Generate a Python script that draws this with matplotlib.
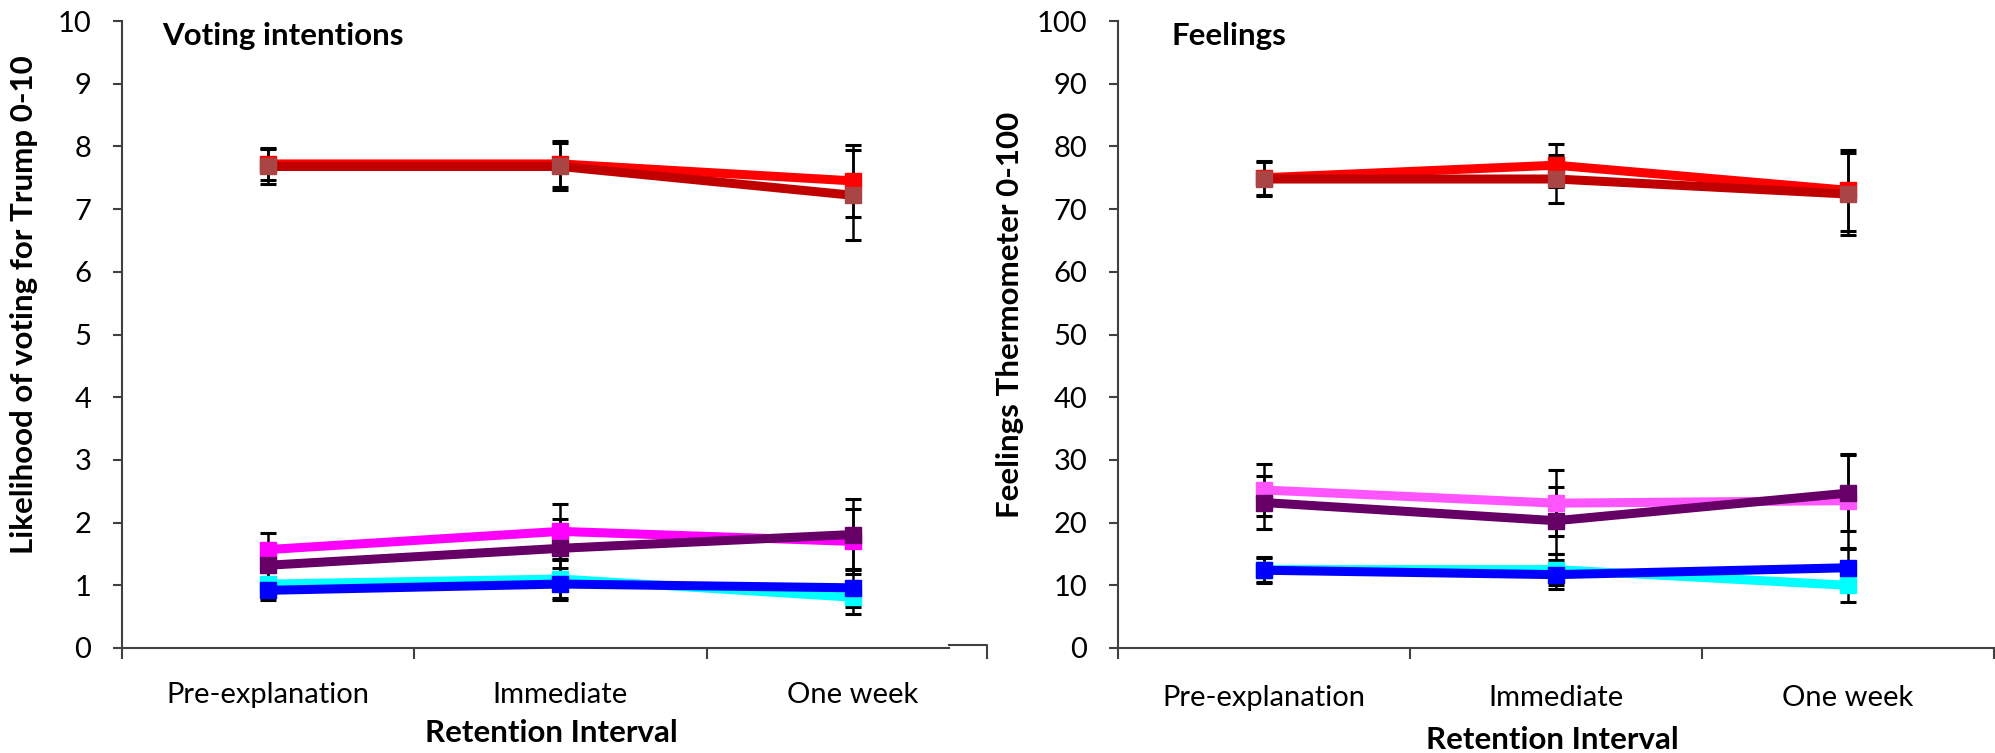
import matplotlib
matplotlib.use('Agg')
import matplotlib.pyplot as plt

plt.rcParams['font.family'] = ['Lato', 'DejaVu Sans']

# ---------------- data ----------------
categories = ['Pre-explanation', 'Immediate', 'One week']

# Left panel: Voting intentions (0-10)
red_L = [7.72, 7.72, 7.45]
red_L_err = [0.26, 0.37, 0.58]
darkred_L = [7.68, 7.68, 7.22]
darkred_L_err = [0.28, 0.38, 0.72]
magenta_L = [1.57, 1.86, 1.70]
magenta_L_err = [0.27, 0.44, 0.52]
purple_L = [1.32, 1.59, 1.81]
purple_L_err = [0.20, 0.46, 0.56]
cyan_L = [1.02, 1.10, 0.81]
cyan_L_err = [0.20, 0.30, 0.26]
blue_L = [0.92, 1.02, 0.96]
blue_L_err = [0.15, 0.25, 0.30]

# Right panel: Feelings thermometer (0-100)
red_R = [75.0, 77.0, 73.0]
red_R_err = [2.7, 3.4, 6.5]
darkred_R = [74.8, 74.8, 72.4]
darkred_R_err = [2.7, 3.9, 6.5]
pink_R = [25.2, 23.1, 23.5]
pink_R_err = [4.1, 5.3, 7.5]
purple_R = [23.2, 20.3, 24.7]
purple_R_err = [4.3, 5.3, 6.1]
cyan_R = [12.5, 12.5, 10.0]
cyan_R_err = [2.0, 2.5, 2.6]
blue_R = [12.4, 11.7, 12.8]
blue_R_err = [2.0, 2.3, 3.0]

left_yticks = list(range(0, 11))
right_yticks = list(range(0, 101, 10))

# ---------------- figure ----------------
W, H = 1995, 753
fig = plt.figure(figsize=(W / 100, H / 100), dpi=100)
axL = fig.add_axes([122 / W, 1 - 648 / H, 877 / W, 627 / H])
axR = fig.add_axes([1118 / W, 1 - 648 / H, 876 / W, 627 / H])

AX_COLOR = '#404040'
FS = 21
FSB = 22.5


def draw(ax, series, ylim, yticks, right_tick=True, cat_pad=24.5):
    x = list(range(len(categories)))
    for vals, err, lc, mc in series:
        ax.errorbar(x, vals, yerr=err, fmt='none', ecolor='black',
                    elinewidth=1.8, capsize=5.5, capthick=2.2, zorder=2)
    for i, (vals, err, lc, mc) in enumerate(series):
        ax.plot(x, vals, color=lc, lw=6.5, marker='s', ms=11.5,
                mfc=mc, mec=mc, zorder=3 + i, solid_joinstyle='miter')
    ax.set_xlim(-0.5, 2.5)
    ax.set_ylim(*ylim)
    ax.set_yticks(yticks)
    ax.set_yticklabels([str(t) for t in yticks], fontsize=FS)
    maj = [-0.5, 0.5, 1.5] + ([2.5] if right_tick else [])
    ax.set_xticks(maj)
    ax.set_xticklabels([''] * len(maj))
    ax.set_xticks(x, minor=True)
    ax.set_xticklabels(categories, minor=True, fontsize=FS)
    ax.tick_params(axis='x', which='minor', length=0, pad=cat_pad)
    ax.tick_params(axis='x', which='major', length=8, width=1.5,
                   color=AX_COLOR, direction='out')
    ax.tick_params(axis='y', length=6.5, width=1.5, color=AX_COLOR,
                   pad=15.5, direction='out')
    for s in ('top', 'right'):
        ax.spines[s].set_visible(False)
    for s in ('left', 'bottom'):
        ax.spines[s].set_color(AX_COLOR)
        ax.spines[s].set_linewidth(1.5)
    ax.patch.set_alpha(0)


draw(axL, [
    (red_L, red_L_err, '#FF0000', '#FF0000'),
    (darkred_L, darkred_L_err, '#C00000', '#A94545'),
    (magenta_L, magenta_L_err, '#FF00FF', '#FF00FF'),
    (purple_L, purple_L_err, '#660066', '#660066'),
    (cyan_L, cyan_L_err, '#00FFFF', '#00FFFF'),
    (blue_L, blue_L_err, '#0000FF', '#0000FF'),
], (0, 10), left_yticks, right_tick=False, cat_pad=24.5)

draw(axR, [
    (red_R, red_R_err, '#FF0000', '#FF0000'),
    (darkred_R, darkred_R_err, '#C00000', '#A94545'),
    (pink_R, pink_R_err, '#FF55FF', '#FF55FF'),
    (purple_R, purple_R_err, '#660066', '#660066'),
    (cyan_R, cyan_R_err, '#00FFFF', '#00FFFF'),
    (blue_R, blue_R_err, '#0000FF', '#0000FF'),
], (0, 100), right_yticks, cat_pad=26.5)

# Left panel x-axis ends short, with a small raised hook (as in the original)
axL.spines['bottom'].set_bounds(-0.5, 2.33)
tr = axL.get_xaxis_transform()
axL.plot([2.33, 2.46, 2.46], [0.005, 0.005, -0.016], color=AX_COLOR,
         lw=1.5, transform=tr, clip_on=False)

# Panel titles
axL.text(0.0456, 0.962, 'Voting intentions', transform=axL.transAxes,
         fontsize=FSB, fontweight='bold', va='baseline', ha='left')
axR.text(0.0616, 0.962, 'Feelings', transform=axR.transAxes,
         fontsize=FSB, fontweight='bold', va='baseline', ha='left')

# Axis labels
fig.text(24 / W, 1 - 305 / H, 'Likelihood of voting for Trump 0-10',
         rotation=90, fontsize=FSB, fontweight='bold', ha='center', va='center')
fig.text(1010 / W, 1 - 315 / H, 'Feelings Thermometer 0-100',
         rotation=90, fontsize=FSB, fontweight='bold', ha='center', va='center')
fig.text(551 / W, 1 - 733 / H, 'Retention Interval', fontsize=FSB,
         fontweight='bold', ha='center', va='center')
fig.text(1552 / W, 1 - 740 / H, 'Retention Interval', fontsize=FSB,
         fontweight='bold', ha='center', va='center')

fig.savefig('out.png', dpi=100, facecolor='white')
